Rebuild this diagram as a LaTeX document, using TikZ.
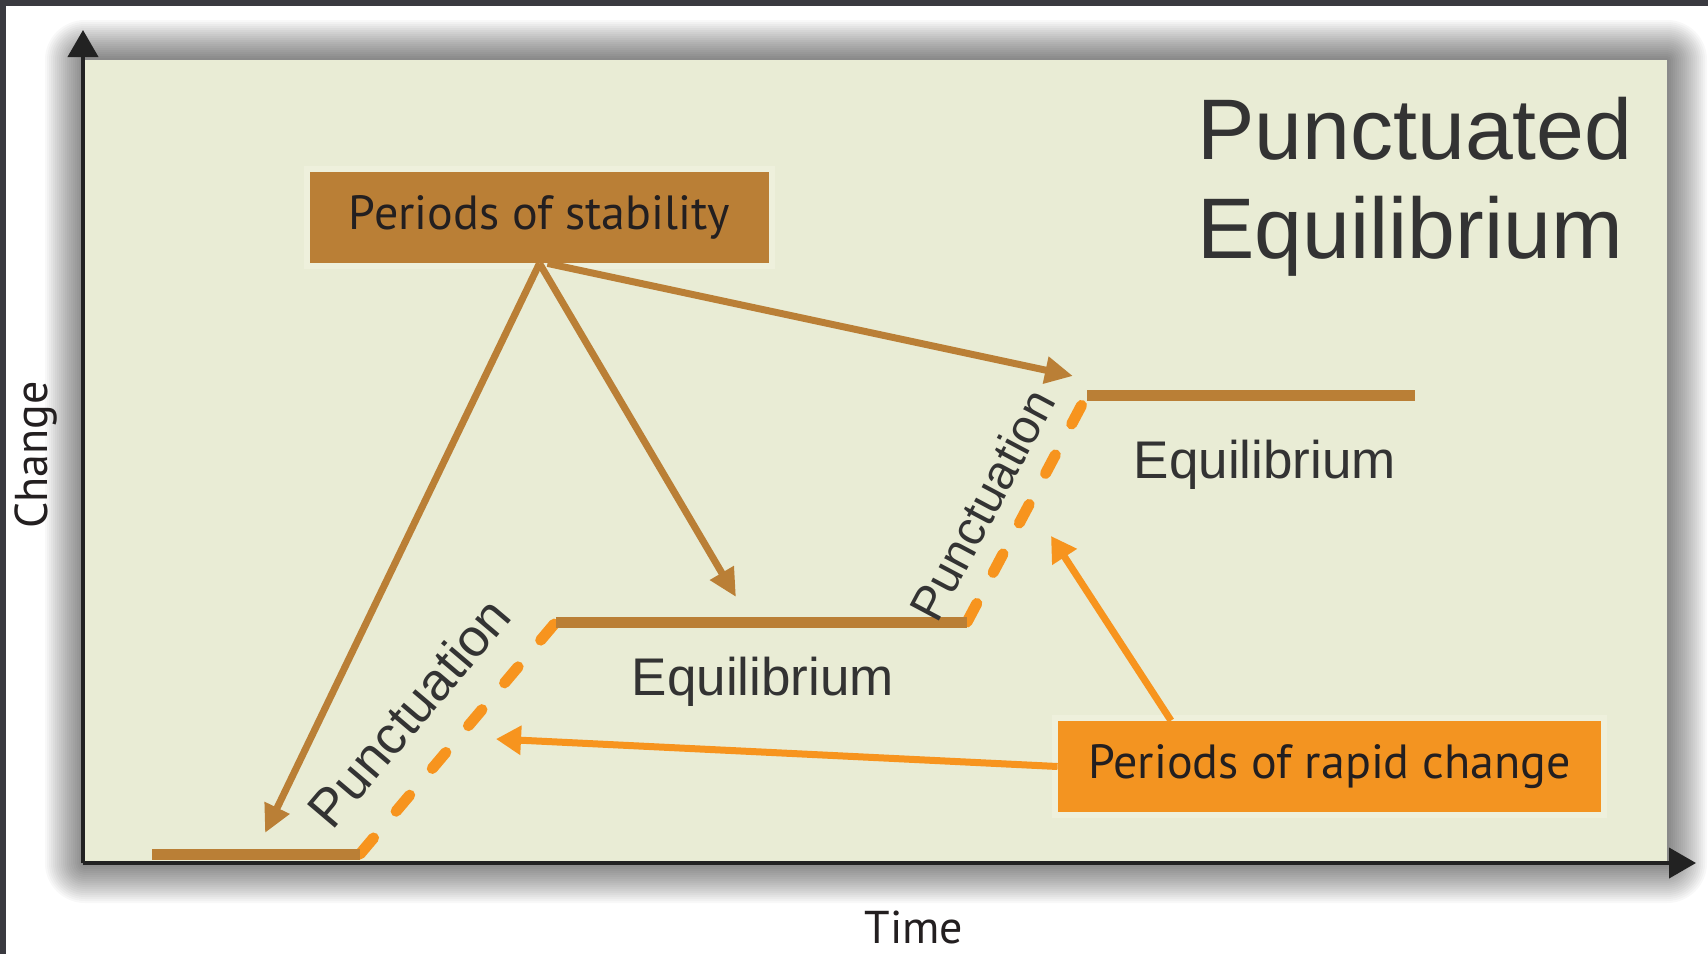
\documentclass[tikz,border=0pt]{standalone}
\usepackage{fontspec}
\setmainfont{Liberation Sans}
\newfontfamily\myriad{PT Sans}
\usetikzlibrary{arrows.meta}
\definecolor{panelbg}{HTML}{E9ECD5}
\definecolor{brownc}{HTML}{BA7F36}
\definecolor{orangec}{HTML}{F7941E}
\definecolor{orangebox}{HTML}{F39421}
\definecolor{txt}{HTML}{333333}
\definecolor{boxtxt}{HTML}{231F20}
\definecolor{framec}{HTML}{3A3A40}
\definecolor{halo}{HTML}{EEF0DC}
\definecolor{axisc}{HTML}{222222}
\begin{document}
\begin{tikzpicture}[x=0.5pt,y=-0.5pt,
  boxlabel/.style={font=\myriad\fontsize{24}{29}\selectfont, text=boxtxt, inner sep=0pt,
    minimum height=45.5pt, preaction={draw=halo,line width=6pt}},
  stabbox/.style={boxlabel, fill=brownc, minimum width=229.5pt},
  rapidbox/.style={boxlabel, fill=orangebox, minimum width=271.5pt},
  axislabel/.style={font=\myriad\fontsize{23}{28}\selectfont, text=boxtxt, inner sep=0pt},
  graphlabel/.style={font=\fontsize{26.5}{32}\selectfont, text=txt, inner sep=0pt},
  titlelabel/.style={font=\fontsize{43}{50}\selectfont, text=txt, inner sep=0pt},
  axisline/.style={draw=axisc, line width=2pt, -{Triangle[length=13.5pt,width=15pt]}},
  eqline/.style={draw=brownc, line width=5.5pt},
  punctline/.style={draw=orangec, line width=5.5pt, line cap=round, dash pattern=on 10.5pt off 17.5pt},
  stabarrow/.style={draw=brownc, line width=3.5pt, -{Triangle[length=14pt,width=13pt]}},
  rapidarrow/.style={draw=orangec, line width=3.5pt, -{Triangle[length=12.5pt,width=14pt]}}
]
\useasboundingbox (0,0) rectangle (1708,954);
\fill[white] (0,0) rectangle (1708,954);
% soft shadow around the panel
\foreach \i [evaluate=\i as \r using 1.0*\i] in {1,...,20}{
  \fill[black,opacity=0.028,rounded corners=\r pt] (85-2*\i,60-2*\i) rectangle (1667+2*\i,863+2*\i);
}
% frame bands
\fill[framec] (0,0) rectangle (1708,6);
\fill[framec] (0,0) rectangle (6,954);
% panel
\fill[panelbg] (85,60) rectangle (1667,863);

% axes
\coordinate (origin) at (83,863);
\coordinate (ytip) at (83,30);
\coordinate (xtip) at (1696,863);
\draw[axisline] (origin) -- (ytip);
\draw[axisline] (origin) -- (xtip);

% equilibrium / punctuation path points
\coordinate (p0) at (152,854);
\coordinate (p1) at (360,854);
\coordinate (p2) at (556,622);
\coordinate (p3) at (967,622);
\coordinate (p4) at (1087,395);
\coordinate (p5) at (1415,395);

\draw[punctline] (p1) -- (p2);
\draw[punctline] (p3) -- (p4);
\draw[eqline] (p0) -- (p1);
\draw[eqline] (p2) -- (p3);
\draw[eqline] (p4) -- (p5);

% boxes
\node[stabbox] (stab) at (539.5,217.5) {Periods of stability};
\node[rapidbox] (rapid) at (1329.5,766.5) {Periods of rapid change};

% arrow tips
\coordinate (t1) at (265,833);
\coordinate (t2) at (736,597);
\coordinate (t3) at (1073,376);
\coordinate (t4) at (496,739);
\coordinate (t5) at (1051,536);

\draw[stabarrow] (stab.south) -- (t1);
\draw[stabarrow] (stab.south) -- (t2);
\draw[stabarrow] ([xshift=4pt]stab.south) -- (t3);
\draw[rapidarrow] (rapid.west) -- (t4);
\draw[rapidarrow] ([xshift=-79.25pt]rapid.north) -- (t5);

% labels
\node[graphlabel, anchor=base] (eqA) at (763,695) {Equilibrium};
\node[graphlabel, anchor=base] (eqB) at (1265,478) {Equilibrium};
\node[graphlabel, rotate=49.7] (puA) at (409,712) {Punctuation};
\node[graphlabel, font=\fontsize{24}{29}\selectfont, rotate=62] (puB) at (982,505) {Punctuation};

% title
\node[titlelabel, anchor=base west] (title1) at (1197,159) {Punctuated};
\node[titlelabel, anchor=base west] (title2) at (1197,258) {Equilibrium};

% axis labels
\node[axislabel, rotate=90] (change) at (35.5,455) {Change};
\node[axislabel, anchor=base] (time) at (914,943) {Time};
\end{tikzpicture}
\end{document}
